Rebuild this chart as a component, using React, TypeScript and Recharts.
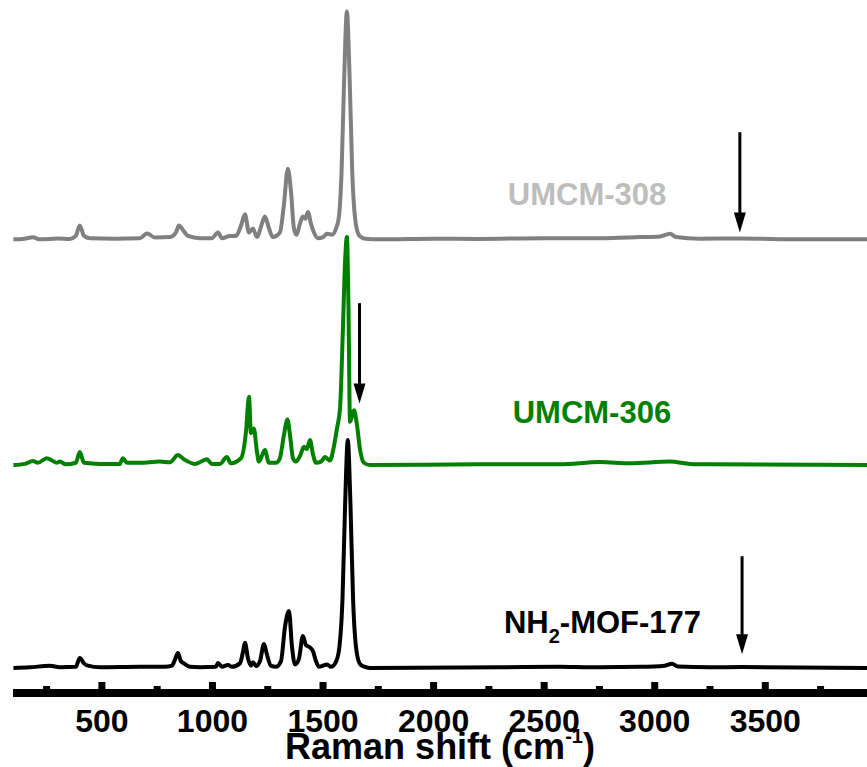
import { LineChart, Line, XAxis, YAxis, ReferenceLine, ReferenceDot, Label } from "recharts"

// Raman spectra, intensities normalised so the strongest band = 100
const WN_308 = [100, 150, 188, 220, 300, 355, 382, 400, 419, 445, 560, 672, 704, 740, 808, 835, 848, 871, 889, 943, 997, 1025, 1043, 1079, 1106, 1129, 1147, 1165, 1183, 1201, 1224, 1237, 1255, 1273, 1305, 1323, 1341, 1356, 1368, 1380, 1396, 1409, 1420, 1432, 1445, 1459, 1477, 1500, 1518, 1540, 1560, 1572, 1584, 1596, 1608, 1620, 1632, 1648, 1665, 1690, 1757, 2000, 2200, 2500, 2752, 2933, 3024, 3069, 3096, 3205, 3386, 3660, 3960]
const I_308 = [0, 0.3, 0.9, 0, 0.4, 0.2, 1.5, 6.1, 1.5, 0.5, 0.3, 0.5, 2.6, 0.8, 1, 3, 6.1, 3.5, 1.5, 0.5, 0.5, 3, 0.5, 1.5, 1.5, 6, 11, 3, 4.8, 1, 7, 10, 5, 1, 3, 15, 31, 20, 5, 2, 7, 10, 9, 12, 7, 3, 0.5, 1, 2.5, 2, 5, 10, 30, 72, 100, 72, 30, 7, 1.5, 0.3, 0, 0.3, 0.2, 0.5, 0.5, 1, 1.3, 2.5, 1, 0.3, 0.4, 0, 0]

const WN_306 = [100, 152, 188, 210, 251, 274, 296, 310, 337, 382, 400, 419, 491, 581, 595, 613, 672, 762, 808, 844, 871, 921, 975, 997, 1034, 1065, 1083, 1129, 1152, 1165, 1174, 1187, 1201, 1210, 1237, 1255, 1287, 1305, 1323, 1339, 1352, 1364, 1377, 1396, 1414, 1427, 1441, 1454, 1468, 1491, 1509, 1531, 1549, 1563, 1577, 1590, 1600, 1608, 1615, 1622, 1640, 1653, 1667, 1685, 1712, 2200, 2571, 2752, 2888, 3069, 3160, 3250, 3960]
const I_306 = [0, 0.5, 1.8, 1, 3, 2, 1, 1.5, 0.3, 1, 5.7, 1, 0.5, 0.5, 3, 1, 1, 1.5, 1.2, 4.4, 2.5, 0.5, 2.5, 0.5, 0.5, 3.5, 0.8, 3, 15, 30, 14, 16, 6, 1.5, 6.6, 1, 1, 3, 13, 20, 12, 3, 1.5, 4, 8, 7, 11, 5, 1, 1.5, 3.5, 2, 8, 16, 25, 60, 90, 100, 70, 19, 24, 18, 7, 1, 0, 0.3, 0.3, 1.3, 0.8, 1.5, 0.5, 0.3, 0]

const WN_177 = [100, 174, 265, 310, 382, 400, 419, 437, 491, 672, 785, 817, 830, 844, 857, 871, 898, 943, 1015, 1025, 1043, 1070, 1088, 1124, 1138, 1147, 1161, 1174, 1183, 1197, 1215, 1233, 1246, 1264, 1287, 1310, 1328, 1346, 1359, 1373, 1391, 1409, 1423, 1441, 1454, 1468, 1482, 1500, 1518, 1536, 1560, 1575, 1588, 1600, 1612, 1624, 1636, 1652, 1669, 1695, 1712, 2300, 2571, 2707, 2933, 3046, 3078, 3105, 3250, 3395, 3960]
const I_177 = [0, 0.3, 0.9, 0.3, 0.5, 4.4, 2, 1, 0.3, 0.5, 0.5, 1, 3.5, 6.6, 3, 2, 0.5, 0.3, 0.5, 2.2, 0.5, 1.3, 0.5, 2, 7, 11, 4, 1, 2.5, 0.8, 3, 10.5, 6, 1, 0.5, 3, 18, 25, 10, 1.5, 4, 14, 10, 9, 7.5, 3, 0.5, 1, 1.5, 0.5, 3, 10, 30, 72, 100, 72, 30, 7, 1.5, 0.3, 0, 0.3, 0.5, 0.3, 0.5, 1, 1.8, 0.6, 0.3, 0.4, 0]

// vertical stacking offsets
const OFFSET_177 = 11
const OFFSET_306 = 100
const OFFSET_308 = 199

const X_TICKS = [250, 500, 750, 1000, 1250, 1500, 1750, 2000, 2250, 2500, 2750, 3000, 3250, 3500, 3750]

// arrows: wavenumber, start and end height
const ARROWS = [
  { wn: 3385, from: 246, to: 202 },
  { wn: 1665, from: 171, to: 127 },
  { wn: 3395, from: 60, to: 17 },
]

const FONT = "'Liberation Sans', Arial, Helvetica, sans-serif"

const toSeries = (wn: number[], inten: number[], offset: number) =>
  wn.map((w, i) => ({ wn: w, v: offset + inten[i] }))

const data177 = toSeries(WN_177, I_177, OFFSET_177)
const data306 = toSeries(WN_306, I_306, OFFSET_306)
const data308 = toSeries(WN_308, I_308, OFFSET_308)

function WavenumberTick({ x, y, payload }: any) {
  const major = payload.value % 500 === 0
  const h = major ? 11 : 7
  return (
    <g>
      <rect x={x - 3.5} y={y - h} width={7} height={h} fill="#000" />
      {major && (
        <text x={x} y={y + 39} textAnchor="middle" fontSize={32} fontWeight="bold" fontFamily={FONT} fill="#000">
          {payload.value}
        </text>
      )}
    </g>
  )
}

function AxisTitle({ viewBox }: any) {
  const cx = viewBox.x + viewBox.width / 2
  return (
    <text x={cx} y={viewBox.y + 66} textAnchor="middle" fontSize={36} fontWeight="bold" fontFamily={FONT} fill="#000">
      Raman shift (cm
      <tspan fontSize={20} dy={-16}>-1</tspan>
      <tspan dy={16}>)</tspan>
    </text>
  )
}

function Arrow({ x1, y1, x2, y2 }: any) {
  const head = 20
  return (
    <g>
      <line x1={x1} y1={y1} x2={x2} y2={y2 - head + 2} stroke="#000" strokeWidth={3} />
      <polygon points={`${x2 - 6},${y2 - head} ${x2 + 6},${y2 - head} ${x2},${y2}`} fill="#000" />
    </g>
  )
}

const seriesLabel = (text: any, color: string) => ({ cx, cy }: any) => (
  <text x={cx} y={cy} textAnchor="middle" fontSize={31} fontWeight="bold" fontFamily={FONT} fill={color}>
    {text}
  </text>
)

export default function App() {
  return (
    <div style={{ position: "absolute", left: 0, top: 0, background: "#fff" }}>
      <LineChart width={867} height={767} margin={{ top: 0, right: 0, bottom: 0, left: 13 }}>
        <XAxis
          dataKey="wn"
          type="number"
          domain={[98, 3960]}
          allowDataOverflow
          ticks={X_TICKS}
          tick={<WavenumberTick />}
          tickLine={false}
          tickSize={0}
          tickMargin={0}
          height={74}
          axisLine={{ stroke: "#000", strokeWidth: 8 }}
        >
          <Label content={<AxisTitle />} />
        </XAxis>
        <YAxis hide type="number" domain={[0, 304]} allowDataOverflow />

        <Line data={data308} dataKey="v" type="monotone" stroke="#808080" strokeWidth={4} dot={false} isAnimationActive={false} />
        <Line data={data306} dataKey="v" type="monotone" stroke="#008000" strokeWidth={4} dot={false} isAnimationActive={false} />
        <Line data={data177} dataKey="v" type="monotone" stroke="#000000" strokeWidth={4} dot={false} isAnimationActive={false} />

        {ARROWS.map((a, i) => (
          <ReferenceLine
            key={i}
            segment={[{ x: a.wn, y: a.from }, { x: a.wn, y: a.to }]}
            shape={<Arrow />}
          />
        ))}

        <ReferenceDot x={2694} y={214} r={0} shape={seriesLabel("UMCM-308", "#bdbdbd")} />
        <ReferenceDot x={2716} y={118.5} r={0} shape={seriesLabel("UMCM-306", "#008000")} />
        <ReferenceDot
          x={2764}
          y={26.3}
          r={0}
          shape={seriesLabel(
            <>
              NH<tspan fontSize={20} dy={10}>2</tspan>
              <tspan dy={-10}>-MOF-177</tspan>
            </>,
            "#000"
          )}
        />
      </LineChart>
    </div>
  )
}
